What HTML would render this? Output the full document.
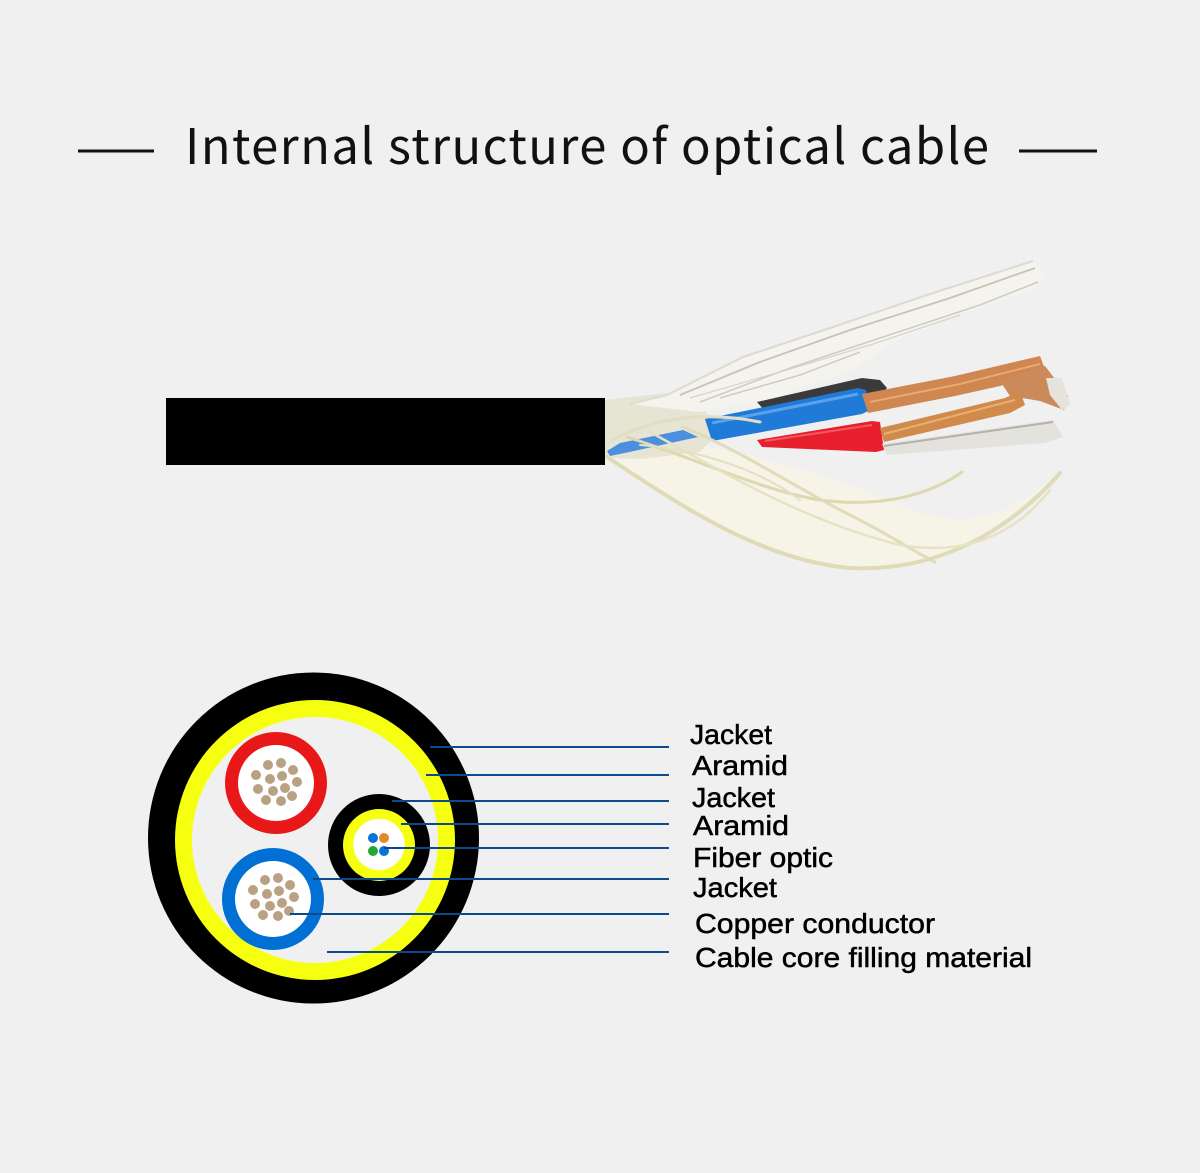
<!DOCTYPE html>
<html>
<head>
<meta charset="utf-8">
<style>
html,body{margin:0;padding:0;background:#f0f0f0;}
svg{display:block;}
</style>
</head>
<body>
<svg width="1200" height="1173" viewBox="0 0 1200 1173" xmlns="http://www.w3.org/2000/svg">
<rect x="0" y="0" width="1200" height="1173" fill="#f0f0f0"/>

<!-- Title -->
<line x1="78" y1="151" x2="154" y2="151" stroke="#111" stroke-width="3"/>
<line x1="1019" y1="151" x2="1097" y2="151" stroke="#111" stroke-width="3"/>
<text x="185" y="164" font-family="'Noto Sans CJK SC','Liberation Sans',sans-serif" font-size="49" font-weight="400" fill="#111" textLength="804" lengthAdjust="spacing">Internal structure of optical cable</text>

<!-- Cable photo approximation -->
<rect x="166" y="398" width="439" height="67" fill="#000"/>

<!-- lower translucent sheet -->
<path d="M607,457 C660,492 740,545 833,567 C905,580 985,545 1060,473 L1050,480 C1000,522 955,530 900,505 C820,470 700,440 627,437 Z" fill="#f6f4e6" opacity="0.9"/>

<!-- cut end translucent -->
<path d="M605,400 L667,393 L705,408 L714,437 L700,452 L640,459 L605,458 Z" fill="#e6e4d2"/>
<path d="M607,451 L620,443 L683,430 L698,437 L634,451 L610,456 Z" fill="#4a8fe0"/>

<!-- upper ribbon -->
<path d="M630,404 L667,395 L743,357 L833,327 L933,293 L1033,261 L1045,275 L1035,289 L950,318 L890,343 L857,368 L820,382 L767,401 L700,412 Z" fill="#f4f3ee"/>
<path d="M630,404 L667,395 L743,357 L833,327 L933,293 L1033,261" stroke="#dcdad2" stroke-width="2" fill="none"/>
<path d="M680,395 L760,362 L850,330 L950,298 L1035,268" stroke="#c4c3ba" stroke-width="1.8" fill="none"/>
<path d="M700,402 L790,368 L880,338 L980,305 L1038,282" stroke="#cdccc4" stroke-width="1.5" fill="none"/>
<path d="M690,398 L780,372 L870,345 L960,315" stroke="#d4d3cb" stroke-width="1.2" fill="none"/>
<path d="M720,398 L800,375 L860,352" stroke="#c8c7bf" stroke-width="1.4" fill="none"/>

<!-- black wire -->
<path d="M757,402 L862,378 L880,380 L887,388 L882,394 L862,394 L765,411 Z" fill="#3a3a3a"/>
<!-- blue wire -->
<path d="M705,419 L858,388 L866,390 L870,410 L862,414 L712,441 Z" fill="#1f7ad8"/>
<path d="M712,423 L858,394" stroke="#5aa2ea" stroke-width="3" fill="none"/>
<!-- red wire -->
<path d="M757,440 L872,421 L880,422 L884,450 L876,452 L762,447 Z" fill="#e8202e"/>
<path d="M765,441 L872,425" stroke="#f05a60" stroke-width="2" fill="none"/>

<!-- copper upper -->
<path d="M862,394 L955,376 L1040,356 L1046,372 L1000,386 L955,396 L868,413 Z" fill="#cf8650"/>
<path d="M870,402 L960,384 L1040,364" stroke="#e8aa70" stroke-width="2" fill="none"/>
<path d="M1000,381 L1045,366 L1068,396 L1064,410 L1040,401 L1010,396 Z" fill="#cc8a5a"/>
<path d="M1046,378 L1062,378 L1070,405 L1062,410 L1050,395 Z" fill="#e6e2dc"/>
<!-- copper lower -->
<path d="M880,428 L1005,398 L1020,391 L1025,405 L1010,413 L884,442 Z" fill="#d08a4c"/>
<path d="M884,434 L1015,400" stroke="#e8b070" stroke-width="2" fill="none"/>
<!-- lower white ribbon end -->
<path d="M882,444 L1053,420 L1063,437 L1045,443 L887,455 Z" fill="#e4e2dc"/>
<path d="M884,446 L1053,422" stroke="#b5b1a8" stroke-width="2" fill="none"/>

<!-- translucent strands -->
<g fill="none" stroke-linecap="round">
<path d="M607,457 C680,505 760,560 850,568 C940,572 1010,530 1060,473" stroke="#e0dbb6" stroke-width="4"/>
<path d="M627,437 C700,460 760,490 820,500 C880,508 930,495 962,472" stroke="#ddd8b0" stroke-width="3"/>
<path d="M683,427 C740,450 800,490 850,515 C890,535 920,555 935,562" stroke="#e0dbb8" stroke-width="3"/>
<path d="M650,432 C720,470 800,520 900,545 C960,555 1010,540 1050,490" stroke="#e6e2c6" stroke-width="2.5"/>
<path d="M612,440 C650,420 700,410 760,422" stroke="#e2dec4" stroke-width="3"/>
<path d="M640,445 C700,450 760,470 800,500" stroke="#e4e0c6" stroke-width="2"/>
</g>

<!-- Cross-section -->
<circle cx="313.5" cy="838" r="165.5" fill="#000"/>
<circle cx="315" cy="840" r="140" fill="#f6ff10"/>
<circle cx="315" cy="840" r="123" fill="#f0f0f0"/>

<!-- red conductor -->
<circle cx="276" cy="783" r="51" fill="#e81818"/>
<circle cx="276" cy="783" r="38" fill="#fff"/>
<g fill="#b9a284">
<circle cx="256" cy="775" r="5"/><circle cx="268" cy="765" r="5"/><circle cx="281" cy="763" r="5"/>
<circle cx="293" cy="770" r="5"/><circle cx="270" cy="779" r="5"/><circle cx="282" cy="776" r="5"/>
<circle cx="297" cy="782" r="5"/><circle cx="258" cy="789" r="5"/><circle cx="273" cy="791" r="5"/>
<circle cx="285" cy="788" r="5"/><circle cx="266" cy="800" r="5"/><circle cx="281" cy="801" r="5"/>
<circle cx="292" cy="796" r="5"/>
</g>

<!-- blue conductor -->
<circle cx="273" cy="899" r="51" fill="#0070d4"/>
<circle cx="273" cy="899" r="38" fill="#fff"/>
<g fill="#b9a284">
<circle cx="253" cy="890" r="5"/><circle cx="265" cy="880" r="5"/><circle cx="278" cy="878" r="5"/>
<circle cx="290" cy="885" r="5"/><circle cx="267" cy="894" r="5"/><circle cx="279" cy="891" r="5"/>
<circle cx="294" cy="897" r="5"/><circle cx="255" cy="904" r="5"/><circle cx="270" cy="906" r="5"/>
<circle cx="282" cy="903" r="5"/><circle cx="263" cy="915" r="5"/><circle cx="278" cy="916" r="5"/>
<circle cx="289" cy="911" r="5"/>
</g>

<!-- fiber unit -->
<circle cx="379" cy="845" r="51" fill="#000"/>
<circle cx="379" cy="845" r="36" fill="#f6ff10"/>
<circle cx="379" cy="844.5" r="25.7" fill="#fff"/>
<circle cx="373" cy="838" r="5" fill="#0a72d6"/>
<circle cx="384" cy="838" r="5" fill="#e08a30"/>
<circle cx="373" cy="851" r="5" fill="#20a830"/>
<circle cx="384" cy="851" r="5" fill="#0a72d6"/>

<!-- leader lines -->
<g stroke="#0c4a8c" stroke-width="2">
<line x1="430" y1="747" x2="669" y2="747"/>
<line x1="426" y1="775" x2="669" y2="775"/>
<line x1="392" y1="801" x2="669" y2="801"/>
<line x1="401" y1="824" x2="669" y2="824"/>
<line x1="384" y1="848" x2="669" y2="848"/>
<line x1="313" y1="879" x2="669" y2="879"/>
<line x1="290" y1="914" x2="669" y2="914"/>
<line x1="327" y1="952" x2="669" y2="952"/>
</g>

<!-- labels -->
<g font-family="'Liberation Sans',sans-serif" font-size="28" fill="#000" stroke="#000" stroke-width="0.5">
<text x="690" y="744" textLength="82" lengthAdjust="spacingAndGlyphs">Jacket</text>
<text x="692" y="775" textLength="96" lengthAdjust="spacingAndGlyphs">Aramid</text>
<text x="692" y="807" textLength="83" lengthAdjust="spacingAndGlyphs">Jacket</text>
<text x="693" y="835" textLength="96" lengthAdjust="spacingAndGlyphs">Aramid</text>
<text x="693" y="867" textLength="140" lengthAdjust="spacingAndGlyphs">Fiber optic</text>
<text x="693" y="897" textLength="84" lengthAdjust="spacingAndGlyphs">Jacket</text>
<text x="695" y="933" textLength="240" lengthAdjust="spacingAndGlyphs">Copper conductor</text>
<text x="695" y="967" textLength="337" lengthAdjust="spacingAndGlyphs">Cable core filling material</text>
</g>
</svg>
</body>
</html>
